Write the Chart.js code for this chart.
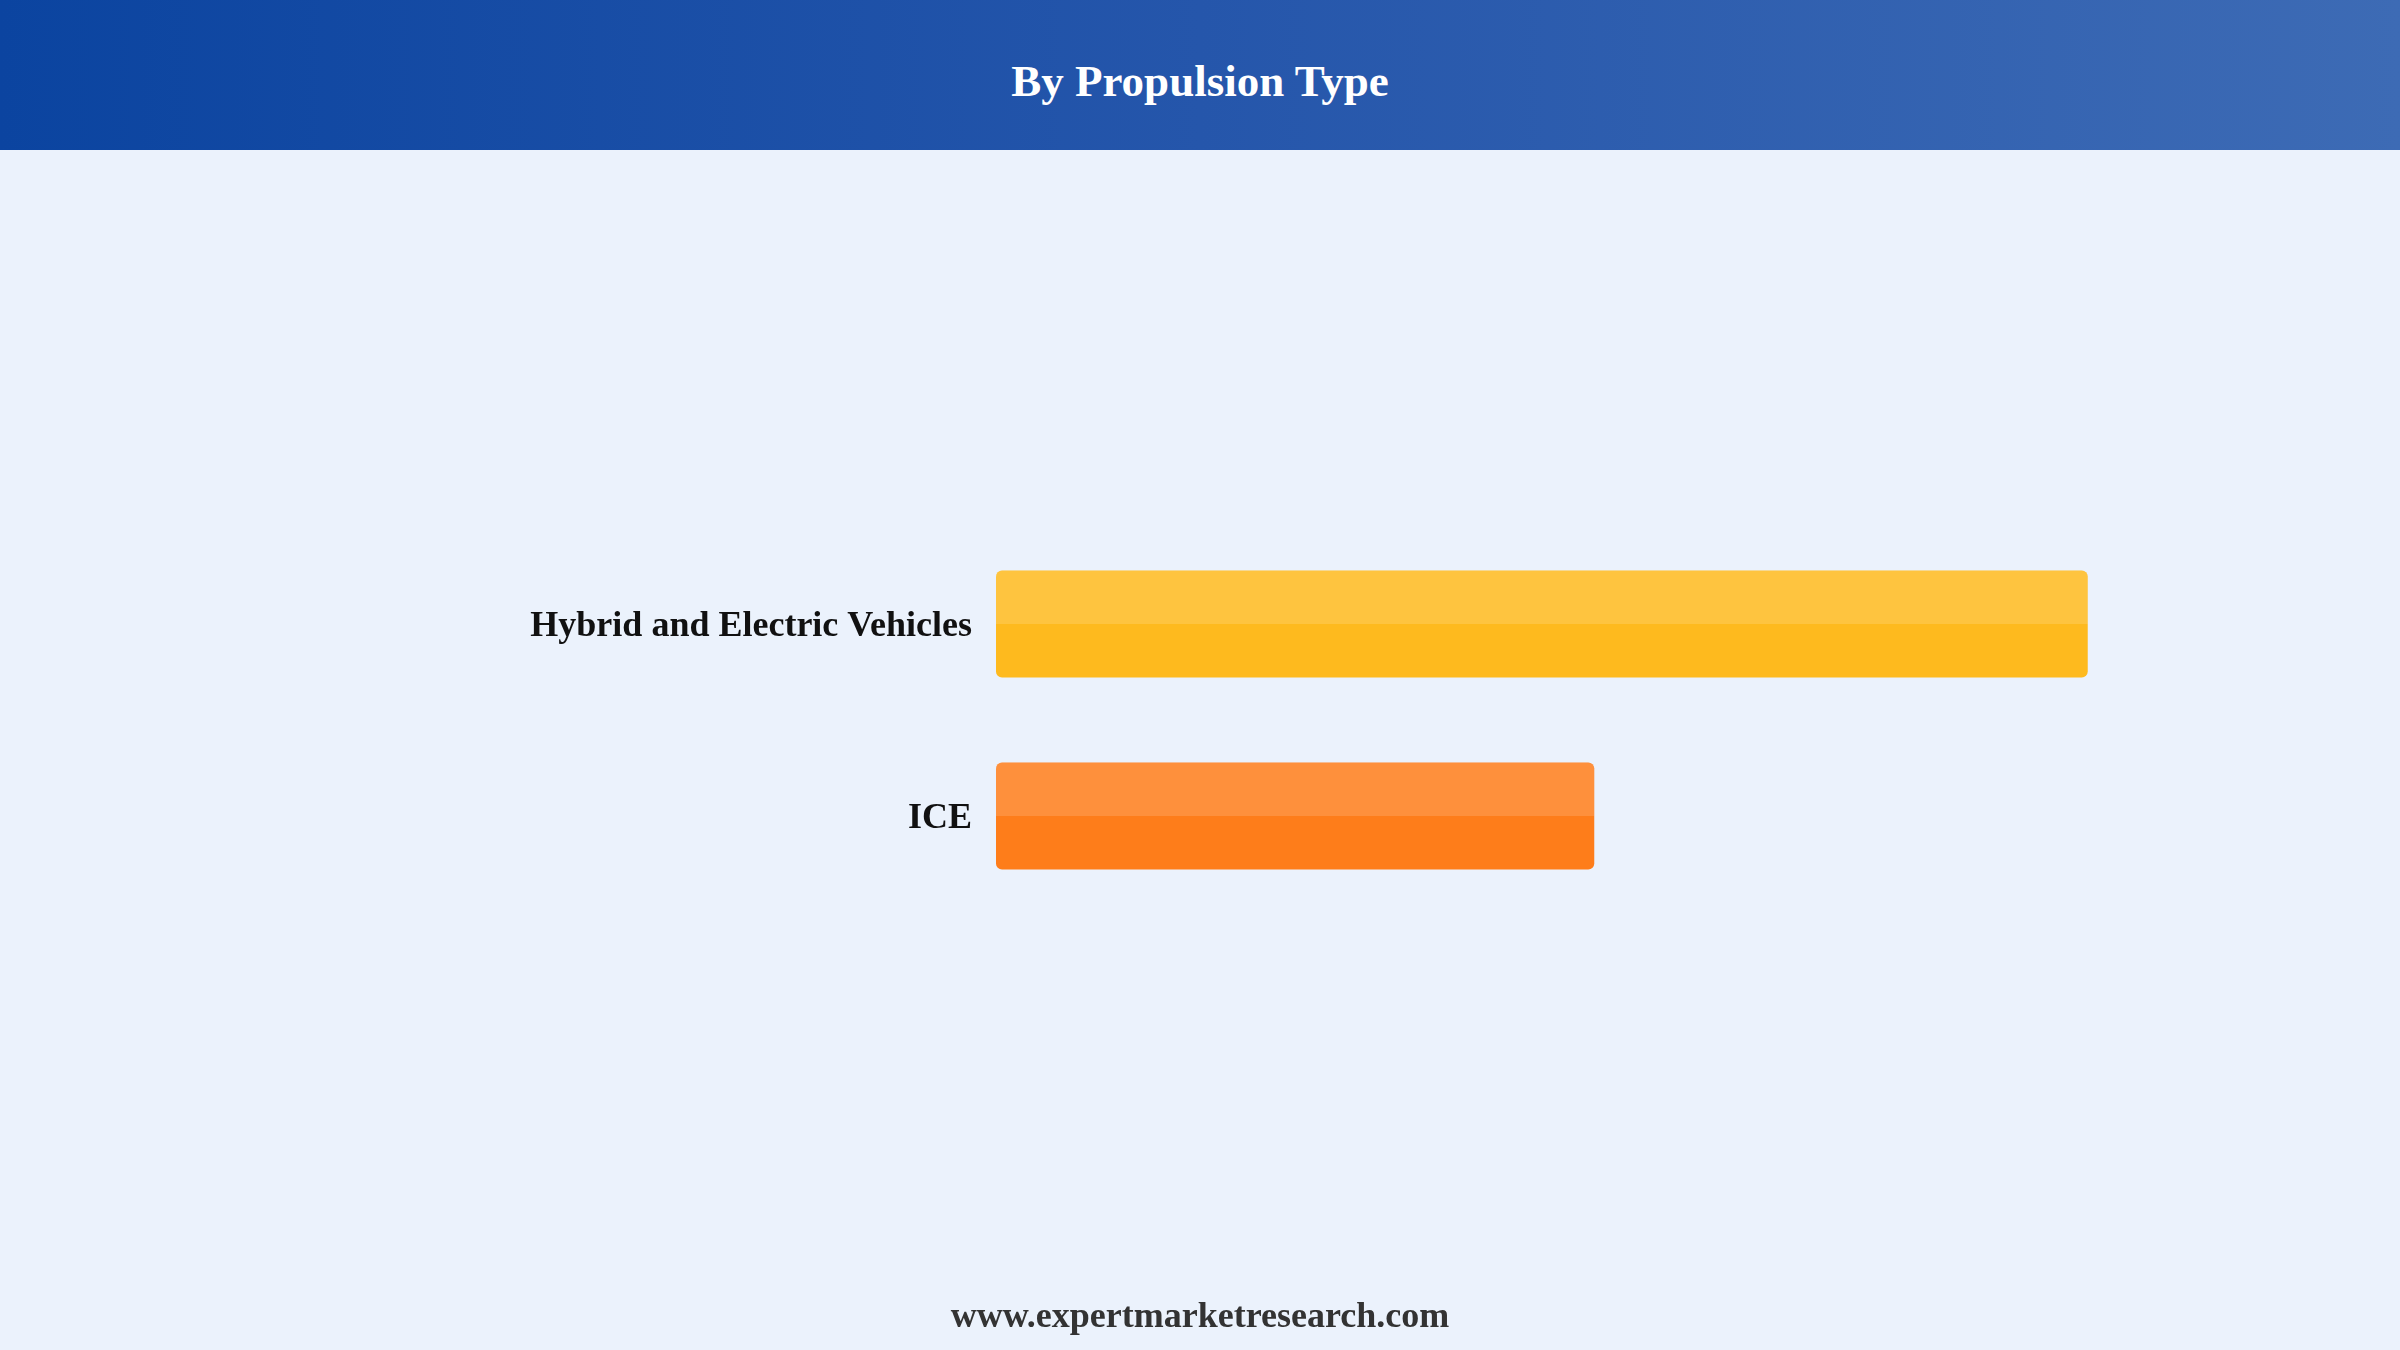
<!DOCTYPE html>
<html>
<head>
<meta charset="utf-8">
<script src="https://cdn.jsdelivr.net/npm/chart.js@4"></script>
<style>
  html, body { margin: 0; padding: 0; width: 2400px; height: 1350px; overflow: hidden; background: #EBF2FC; }
  #header {
    position: absolute; left: 0; top: 0; width: 2400px; height: 150px;
    background: linear-gradient(to right, #0B44A0 0%, #2556AB 50%, #3D6BB5 100%);
    display: flex; align-items: center; justify-content: center;
  }
  #title { color: #FFFFFF; font-family: "Liberation Serif", "Times New Roman", serif; font-weight: bold; font-size: 45px; margin-top: 12px; }
  #footer {
    position: absolute; left: 0; top: 1290px; width: 2400px; text-align: center;
    color: #333333; font-family: "Liberation Serif", "Times New Roman", serif; font-weight: bold; font-size: 36px; line-height: 50px;
  }
  #chart { position: absolute; left: 0; top: 0; }
</style>
</head>
<body>
<div id="header"><div id="title">By Propulsion Type</div></div>
<canvas id="chart" width="2400" height="1350"></canvas>
<div id="footer">www.expertmarketresearch.com</div>
<script>
const categories = ['Hybrid and Electric Vehicles', 'ICE'];
const shareValues = [64.6, 35.4];
const axisMax = 70;
const barColors = ['#FEBA1E', '#FE7D1A'];

const highlightPlugin = {
  id: 'highlight',
  afterDatasetsDraw(chart) {
    const ctx = chart.ctx;
    chart.getSortedVisibleDatasetMetas().forEach(meta => {
      meta.data.forEach(bar => {
        const p = bar.getProps(['x', 'y', 'base', 'height'], true);
        const left = Math.min(p.x, p.base);
        const w = Math.abs(p.x - p.base);
        const top = p.y - p.height / 2;
        ctx.save();
        ctx.fillStyle = 'rgba(255,255,255,0.15)';
        ctx.beginPath();
        ctx.roundRect(left, top, w, p.height / 2, [6, 6, 0, 0]);
        ctx.fill();
        ctx.restore();
      });
    });
  }
};

new Chart(document.getElementById('chart'), {
  type: 'bar',
  data: {
    labels: categories,
    datasets: [{
      data: shareValues,
      backgroundColor: barColors,
      borderRadius: 6,
      borderSkipped: false,
      categoryPercentage: 0.8,
      barPercentage: 0.697
    }]
  },
  options: {
    indexAxis: 'y',
    responsive: false,
    animation: false,
    devicePixelRatio: 1,
    layout: { padding: { top: 528, bottom: 438, left: 0, right: 221 } },
    plugins: { legend: { display: false }, tooltip: { enabled: false }, title: { display: false } },
    scales: {
      x: { display: false, min: 0, max: axisMax },
      y: {
        afterFit(scale) { scale.width = 996; },
        grid: { display: false, drawTicks: false },
        border: { display: false },
        ticks: {
          padding: 24,
          labelOffset: 3,
          color: '#111111',
          font: { family: '"Liberation Serif", "Times New Roman", serif', weight: 'bold', size: 36 }
        }
      }
    }
  },
  plugins: [highlightPlugin]
});
</script>
</body>
</html>
